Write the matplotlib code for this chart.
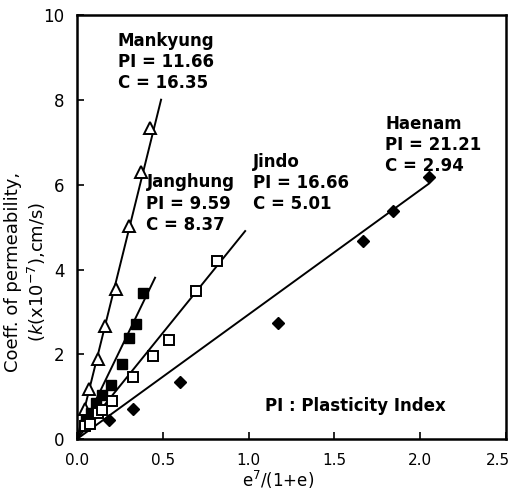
import numpy as np
import matplotlib
matplotlib.use("Agg")
import matplotlib.pyplot as plt
from matplotlib.transforms import ScaledTranslation

plt.rcParams['font.family'] = ['DejaVu Sans']

# e^n/(1+e) vs k (x10^-7 cm/s) for each site
mank_x = [0.045, 0.07, 0.12, 0.163, 0.227, 0.302, 0.372, 0.424]
mank_y = [0.72, 1.18, 1.88, 2.67, 3.55, 5.04, 6.31, 7.35]

jang_x = [0.05, 0.08, 0.11, 0.145, 0.198, 0.26, 0.302, 0.343, 0.384]
jang_y = [0.45, 0.62, 0.85, 1.04, 1.28, 1.77, 2.38, 2.72, 3.44]

jindo_x = [0.045, 0.076, 0.12, 0.145, 0.203, 0.326, 0.442, 0.535, 0.692, 0.814]
jindo_y = [0.30, 0.36, 0.62, 0.69, 0.90, 1.47, 1.95, 2.34, 3.50, 4.21]

haenam_x = [0.186, 0.326, 0.60, 1.169, 1.669, 1.843, 2.052]
haenam_y = [0.45, 0.71, 1.35, 2.74, 4.68, 5.39, 6.19]

# fitted slopes C and the extent of each fitted line
names = ['Mankyung', 'Janghung', 'Jindo', 'Haenam']
pi_vals = [11.66, 9.59, 16.66, 21.21]
c_vals = [16.35, 8.37, 5.01, 2.94]
line_end = [0.49, 0.455, 0.98, 2.05]

fig = plt.figure(figsize=(5.14, 4.93), dpi=100)
ax = fig.add_axes([0.1498, 0.1095, 0.8346, 0.8591])

for xe, c in zip(line_end, c_vals):
    xs = np.array([0.0, xe])
    ax.plot(xs, c * xs, color='black', lw=1.4, zorder=2)

ax.plot(mank_x, mank_y, ls='none', marker='^', ms=8, mfc='white',
        mec='black', mew=1.4, zorder=3)
ax.plot(jang_x, jang_y, ls='none', marker='s', ms=7.5, mfc='black',
        mec='black', zorder=3)
ax.plot(jindo_x, jindo_y, ls='none', marker='s', ms=7.5, mfc='white',
        mec='black', mew=1.4, zorder=3)
ax.plot(haenam_x, haenam_y, ls='none', marker='D', ms=6, mfc='black',
        mec='black', zorder=3)

# site annotations: left edge and baseline of first line, lines 0.5 apart
label_pos = [(0.238, 9.28), (0.405, 5.94), (1.023, 6.42), (1.797, 7.33)]
for (lx, ly), name, pi, c in zip(label_pos, names, pi_vals, c_vals):
    rows = [name, f"PI = {pi:.2f}", f"C = {c:.2f}"]
    for i, row in enumerate(rows):
        ax.text(lx, ly - 0.5 * i, row, fontsize=12, fontweight='bold',
                va='baseline', ha='left')

ax.text(1.093, 0.66, "PI : Plasticity Index", fontsize=12, fontweight='bold',
        va='baseline', ha='left')

ax.set_xlim(0, 2.5)
ax.set_ylim(0, 10)
ax.set_xticks([0.0, 0.5, 1.0, 1.5, 2.0, 2.5])
ax.set_xticklabels(['0.0', '0.5', '1.0', '1.5', '2.0', '2.5'])
ax.set_yticks([0, 2, 4, 6, 8, 10])
ax.tick_params(direction='in', length=5, width=1.2)
ax.tick_params(axis='x', labelsize=11, pad=10)
ax.tick_params(axis='y', labelsize=12, pad=9)
for sp in ax.spines.values():
    sp.set_linewidth(1.8)

# nudge the last x label so it stays inside the figure
last = ax.get_xticklabels()[-1]
last.set_transform(last.get_transform() + ScaledTranslation(-6 / 72, 0, fig.dpi_scale_trans))

fig.text(0.541, 0.027, r"e$^{7}$/(1+e)", fontsize=12, ha='center', va='center')
fig.text(0.025, 0.448, "Coeff. of permeability,", fontsize=13, rotation=90,
         ha='center', va='center')
fig.text(0.071, 0.448, r"($k$(x10$^{-7}$),cm/s)", fontsize=13, rotation=90,
         ha='center', va='center')

fig.savefig('out.png', dpi=100)
